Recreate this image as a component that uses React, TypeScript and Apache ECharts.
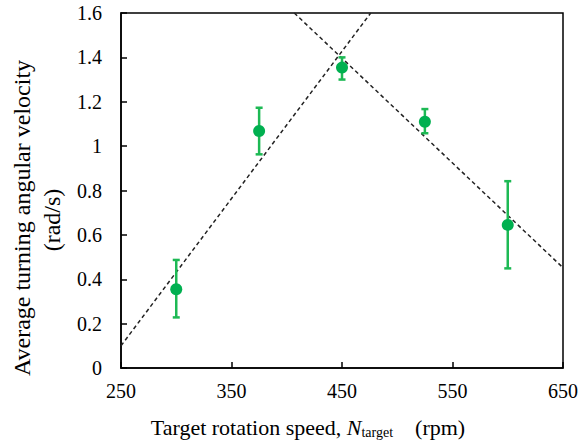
import React, { useEffect, useRef } from "react";
import * as echarts from "echarts";

const speeds = [300, 375, 450, 525, 600];
const velocity = [0.355, 1.068, 1.354, 1.11, 0.645];
const errLow = [0.228, 0.963, 1.3, 1.058, 0.449];
const errHigh = [0.487, 1.173, 1.4, 1.167, 0.842];

const riseLineX = [250, 476];
const riseLineY = [0.1, 1.6];
const fallLineX = [406.8, 650];
const fallLineY = [1.6, 0.452];

const xTicks = [250, 350, 450, 550, 650];

const yTitle = "Average turning angular velocity";
const yUnit = "(rad/s)";

const GREEN = "#00B050";
const FONT = "Liberation Serif";

export default function App() {
  const ref = useRef<HTMLDivElement>(null);
  useEffect(() => {
    if (!ref.current) return;
    const chart = echarts.init(ref.current, null, { renderer: "svg" });
    const errData = speeds.map((s, i) => [s, errLow[i], errHigh[i]]);
    chart.setOption({
      animation: false,
      textStyle: { fontFamily: FONT },
      grid: {
        left: 121,
        right: 18,
        top: 13,
        bottom: 77,
        show: true,
        borderColor: "#000",
        borderWidth: 1.5,
        containLabel: false,
        outerBoundsMode: "none",
      },
      graphic: [
        {
          type: "text",
          x: 22,
          y: 218,
          rotation: Math.PI / 2,
          style: {
            text: yTitle,
            font: `24px ${FONT}`,
            fill: "#000",
            align: "center",
            verticalAlign: "middle",
          },
        },
        {
          type: "text",
          x: 52,
          y: 220,
          rotation: Math.PI / 2,
          style: {
            text: yUnit,
            font: `24px ${FONT}`,
            fill: "#000",
            align: "center",
            verticalAlign: "middle",
          },
        },
        {
          type: "text",
          x: 308,
          y: 427,
          style: {
            text: "{n|Target rotation speed, }{i|N}{s|target}{n|    (rpm)}",
            align: "center",
            verticalAlign: "middle",
            rich: {
              n: { fontFamily: FONT, fontSize: 22, fill: "#000", color: "#000" },
              i: { fontFamily: FONT, fontSize: 22, fontStyle: "italic", fill: "#000", color: "#000" },
              s: { fontFamily: FONT, fontSize: 14, fill: "#000", color: "#000", verticalAlign: "bottom", padding: [10, 0, 0, 0] },
            },
          },
        },
      ],
      xAxis: {
        type: "value",
        min: xTicks[0],
        max: xTicks[xTicks.length - 1],
        interval: 100,
        splitLine: { show: false },
        axisLine: { lineStyle: { color: "#000", width: 1.5 } },
        axisTick: { inside: true, length: 6, lineStyle: { color: "#000", width: 1.5 } },
        axisLabel: { color: "#000", fontFamily: FONT, fontSize: 20, margin: 13 },
      },
      yAxis: {
        type: "value",
        min: 0,
        max: 1.6,
        interval: 0.2,
        splitLine: { show: false },
        axisLine: { show: true, lineStyle: { color: "#000", width: 1.5 } },
        axisTick: { show: true, inside: true, length: 6, lineStyle: { color: "#000", width: 1.5 } },
        axisLabel: { color: "#000", fontFamily: FONT, fontSize: 20, margin: 19 },
      },
      series: [
        {
          type: "line",
          data: riseLineX.map((x, i) => [x, riseLineY[i]]),
          symbol: "none",
          lineStyle: { color: "#222", width: 1.5, type: [4, 3] },
          z: 3,
        },
        {
          type: "line",
          data: fallLineX.map((x, i) => [x, fallLineY[i]]),
          symbol: "none",
          lineStyle: { color: "#222", width: 1.5, type: [4, 3] },
          z: 3,
        },
        {
          type: "custom",
          data: errData,
          z: 4,
          renderItem: (params: any, api: any) => {
            const x = api.value(0);
            const lo = api.coord([x, api.value(1)]);
            const hi = api.coord([x, api.value(2)]);
            const cap = 3.5;
            const style = { stroke: "#1DB954", lineWidth: 2.5 };
            return {
              type: "group",
              children: [
                { type: "line", shape: { x1: lo[0], y1: lo[1], x2: hi[0], y2: hi[1] }, style },
                { type: "line", shape: { x1: lo[0] - cap, y1: lo[1], x2: lo[0] + cap, y2: lo[1] }, style },
                { type: "line", shape: { x1: hi[0] - cap, y1: hi[1], x2: hi[0] + cap, y2: hi[1] }, style },
              ],
            };
          },
        },
        {
          type: "scatter",
          data: speeds.map((s, i) => [s, velocity[i]]),
          symbol: "circle",
          symbolSize: 12,
          itemStyle: { color: GREEN, opacity: 1 },
          z: 5,
        },
      ],
    });
    return () => chart.dispose();
  }, []);
  return <div ref={ref} style={{ width: 581, height: 445, position: "absolute", left: 0, top: 0 }} />;
}
